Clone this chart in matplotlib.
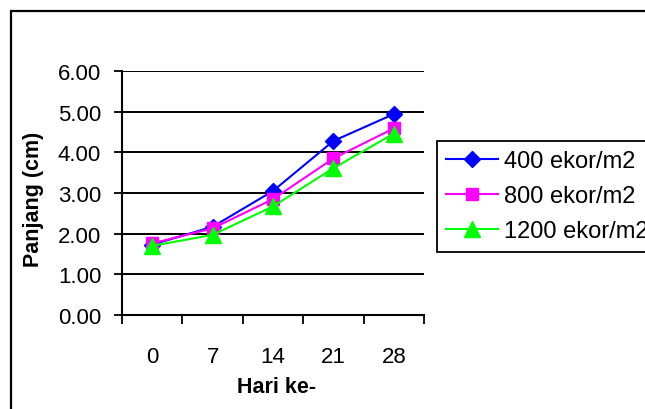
import matplotlib
matplotlib.use('Agg')
import matplotlib.pyplot as plt
from matplotlib.patches import Rectangle

plt.rcParams['font.family'] = ['Liberation Sans', 'DejaVu Sans']

days = ['0', '7', '14', '21', '28']
series_names = ['400 ekor/m2', '800 ekor/m2', '1200 ekor/m2']
len_400 = [1.73, 2.17, 3.05, 4.28, 4.94]
len_800 = [1.76, 2.13, 2.85, 3.85, 4.59]
len_1200 = [1.70, 1.97, 2.67, 3.61, 4.46]
y_ticks = [0, 1, 2, 3, 4, 5, 6]

W, H = 645, 410
fig = plt.figure(figsize=(W / 100, H / 100), dpi=100)
ax = fig.add_axes([122 / W, 1 - 316 / H, 302 / W, 244 / H])

x = range(len(days))
styles = [
    (len_400, '#0000FF', 'D', 8.5),
    (len_800, '#FF00FF', 's', 9),
    (len_1200, '#00FF00', '^', 12),
]
for (vals, color, marker, ms), name in zip(styles, series_names):
    ax.plot(x, vals, color=color, lw=1.5, marker=marker, ms=ms,
            markerfacecolor=color, markeredgecolor=color, label=name,
            clip_on=False)

ax.set_xlim(-0.5, len(days) - 0.5)
ax.set_ylim(0, 6)

# category boundaries carry the tick marks, labels sit at centres
ax.set_xticks([i - 0.5 for i in range(len(days) + 1)])
ax.set_xticklabels([])
ax.set_xticks(list(x), minor=True)
ax.set_xticklabels(days, minor=True, fontsize=16)
ax.tick_params(axis='x', which='major', direction='out', length=6.5, width=1.3)
ax.tick_params(axis='x', which='minor', length=0, pad=22)

ax.set_yticks(y_ticks)
ax.set_yticklabels([f'{v:.2f}' for v in y_ticks], fontsize=16)
ax.tick_params(axis='y', direction='out', length=6, width=1.3, pad=9)

ax.yaxis.grid(True, color='black', lw=1.4)
ax.set_axisbelow(True)
for side in ('top', 'right'):
    ax.spines[side].set_visible(False)
for side in ('left', 'bottom'):
    ax.spines[side].set_linewidth(1.5)

fig.text(277 / W, 1 - 388 / H, 'Hari ke-', ha='center', va='center',
         fontsize=15.5, fontweight='bold')
fig.text(33 / W, 1 - 199.5 / H, 'Panjang (cm)', ha='center', va='center',
         rotation=90, fontsize=15.5, fontweight='bold')

leg = fig.legend(loc='upper left', bbox_to_anchor=(437 / W, 1 - 142 / H),
                 bbox_transform=fig.transFigure, fontsize=17, numpoints=1,
                 handlelength=2.2, handletextpad=0.25, borderpad=0.4,
                 labelspacing=0.55, borderaxespad=0, fancybox=False,
                 framealpha=1)
leg.get_frame().set_edgecolor('black')
leg.get_frame().set_linewidth(1.3)

# outer chart border (right and bottom edges fall outside the image)
fig.patches.append(Rectangle((11 / W, -0.2), 1.2, 1.2 - 11.5 / H,
                             transform=fig.transFigure, fill=False,
                             edgecolor='black', lw=1.6))

fig.savefig('out.png', dpi=100)
